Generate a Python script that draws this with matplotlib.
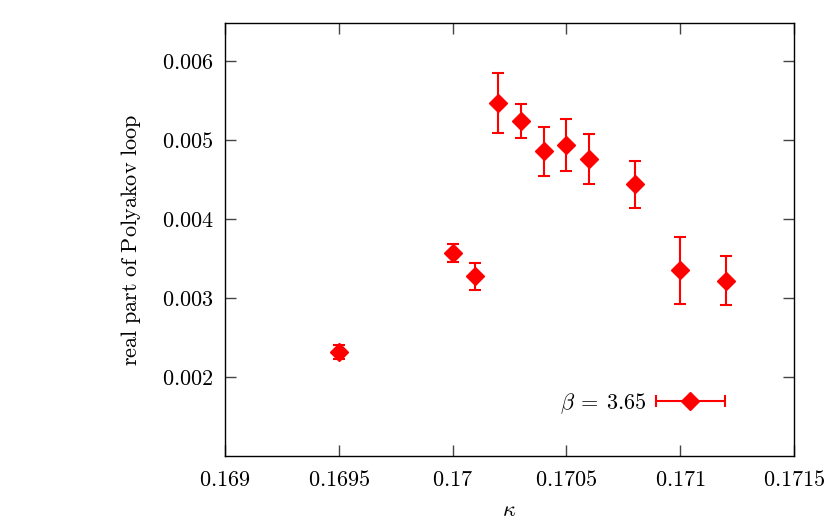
import numpy as np
import matplotlib
matplotlib.use('Agg')
import matplotlib.pyplot as plt
from matplotlib.legend_handler import HandlerErrorbar

plt.rcParams['mathtext.fontset'] = 'cm'
plt.rcParams['font.family'] = 'serif'

kappa = [0.1695, 0.1700, 0.1701, 0.1702, 0.1703, 0.1704, 0.1705, 0.1706, 0.1708, 0.1710, 0.1712]
poly = [0.002316, 0.003566, 0.003275, 0.005468, 0.005241, 0.004857,
        0.004937, 0.004759, 0.004439, 0.003350, 0.003219]
poly_err = [0.00009, 0.000114, 0.000173, 0.000384, 0.000215, 0.00031,
            0.000327, 0.000314, 0.000297, 0.000426, 0.000312]

xticks = [0.169, 0.1695, 0.170, 0.1705, 0.171, 0.1715]
xtick_labels = ['0.169', '0.1695', '0.17', '0.1705', '0.171', '0.1715']
yticks = [0.002, 0.003, 0.004, 0.005, 0.006]
ytick_labels = ['0.002', '0.003', '0.004', '0.005', '0.006']

fs = 16
fig = plt.figure(figsize=(8.3, 5.25), dpi=100)
ax = fig.add_axes([0.2711, 0.1314, 0.6855, 0.8248])

red = '#ff0000'
ax.errorbar(kappa, poly, yerr=poly_err, fmt='D', color=red, ms=9,
            elinewidth=1.5, capsize=4.5, capthick=1.5)
# proxy for the gnuplot-style key (horizontal bar)
key = ax.errorbar([np.nan], [np.nan], xerr=[1.0], fmt='D', color=red, ms=9,
                  elinewidth=1.5, capsize=4.5, capthick=1.5,
                  label=r'$\beta\:=\:3.65$')

ax.set_xlim(0.169, 0.1715)
ax.set_ylim(0.001, 0.00648)
ax.set_xticks(xticks)
ax.set_xticklabels(['$' + s + '$' for s in xtick_labels], fontsize=fs)
ax.set_yticks(yticks)
ax.set_yticklabels(['$' + s + '$' for s in ytick_labels], fontsize=fs)
ax.tick_params(direction='in', length=8, width=1, top=True, right=True,
               color='#444444')
ax.tick_params(axis='x', pad=9)
ax.tick_params(axis='y', pad=8)
for s in ax.spines.values():
    s.set_linewidth(1)

ax.set_xlabel(r'$\kappa$', fontsize=fs, labelpad=6)
ax.set_ylabel(r'$\mathrm{real\ part\ of\ Polyakov\ loop}$', fontsize=fs, labelpad=14)

ax.legend(loc='lower right', bbox_to_anchor=(0.8976, 0.067), frameon=False,
          markerfirst=False, handlelength=3.1, fontsize=fs, handletextpad=0.4,
          borderpad=0, handler_map={key: HandlerErrorbar(xerr_size=1.55)})

fig.savefig('out.png', dpi=100)
